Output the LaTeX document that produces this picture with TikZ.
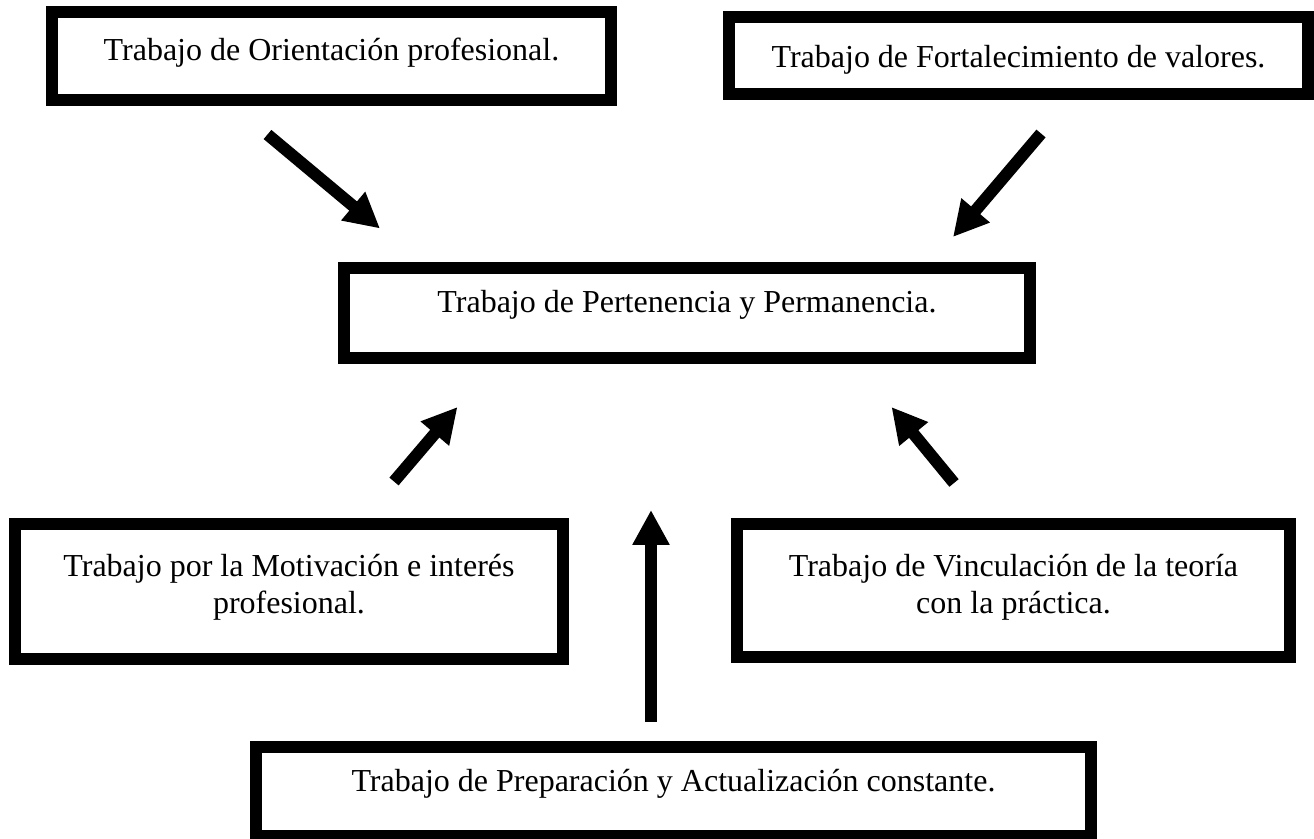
\documentclass[tikz,border=0pt]{standalone}
\usepackage{fontspec}
\setmainfont{Liberation Serif}
\usetikzlibrary{arrows.meta}
\newcommand{\twolines}[2]{\begin{tabular}[t]{@{}c@{}}#1\\#2\end{tabular}}
\begin{document}
\begin{tikzpicture}[x=0.5pt,y=-0.5pt,
  box/.style={draw=black, line width=6pt, fill=white, inner sep=0pt, outer sep=0pt,
    font=\fontsize{16pt}{18.5pt}\selectfont},
  thickarrow/.style={draw=black, line width=6pt, -{Triangle[length=17.5pt,width=17.5pt]}}]
\useasboundingbox (0,0) rectangle (1314,839);

\node[box, minimum width=279.5pt, text height=24.5pt, text depth=19.5pt] (orient) at (331.5,56)
  {Trabajo de Orientación profesional.};
\node[box, minimum width=289.5pt, text height=25pt, text depth=13.25pt] (valores) at (1018.5,55.75)
  {Trabajo de Fortalecimiento de valores.};
\node[box, minimum width=343pt, text height=22.5pt, text depth=22.5pt] (perten) at (687,313)
  {Trabajo de Pertenencia y Permanencia.};
\node[box, minimum width=274pt, text height=26.25pt, text depth=41pt] (motiv) at (289,591.75)
  {\twolines{Trabajo por la Motivación e interés}{profesional.}};
\node[box, minimum width=276.5pt, text height=26.25pt, text depth=40pt] (vinc) at (1013.5,590.75)
  {\twolines{Trabajo de Vinculación de la teoría}{con la práctica.}};
\node[box, minimum width=417.5pt, text height=22.25pt, text depth=22pt] (prep) at (673.5,791.75)
  {Trabajo de Preparación y Actualización constante.};

\coordinate (a1s) at (267.5,134.5);
\coordinate (a1e) at (380,228.5);
\coordinate (a2s) at (1041,133.5);
\coordinate (a2e) at (953,237);
\coordinate (a3s) at (394,481.5);
\coordinate (a3e) at (457.5,407);
\coordinate (a4s) at (954,483);
\coordinate (a4e) at (891.5,407);
\coordinate (a5s) at (651,722);
\coordinate (a5e) at (651,510);

\draw[thickarrow] (a1s) -- (a1e);
\draw[thickarrow] (a2s) -- (a2e);
\draw[thickarrow] (a3s) -- (a3e);
\draw[thickarrow] (a4s) -- (a4e);
\draw[thickarrow] (a5s) -- (a5e);
\end{tikzpicture}
\end{document}
